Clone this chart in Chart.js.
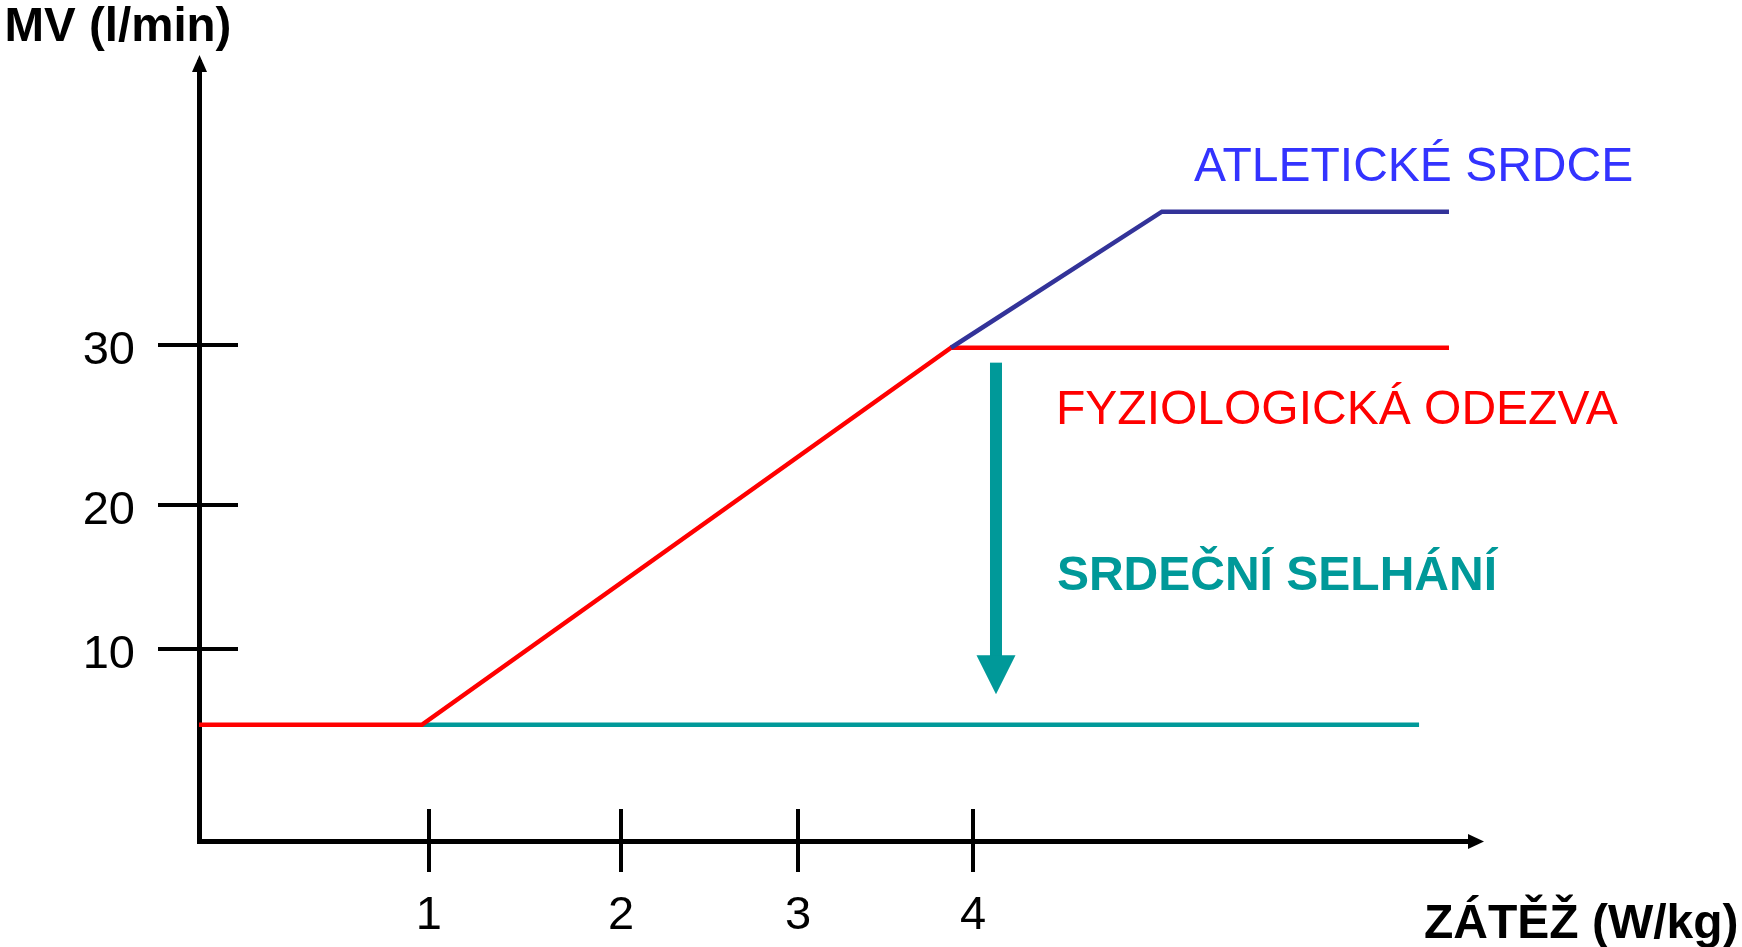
<!DOCTYPE html>
<html>
<head>
<meta charset="utf-8">
<script src="https://cdn.jsdelivr.net/npm/chart.js@4/dist/chart.umd.min.js"></script>
<style>
  html, body { margin: 0; padding: 0; background: #fff; overflow: hidden; }
  #wrap { width: 1742px; height: 947px; position: relative; }
</style>
</head>
<body>
<div id="wrap"><canvas id="c"></canvas></div>
<script>
// ---- data ----
const xTickValues = [1, 2.06, 3.035, 4];
const xTickLabels = ['1', '2', '3', '4'];
const yTickValues = [10, 19.47, 30];
const yTickLabels = ['10', '20', '30'];

const seriesNames = ['ATLETICKÉ SRDCE', 'FYZIOLOGICKÁ ODEZVA', 'SRDEČNÍ SELHÁNÍ'];

const athleteX = [3.879, 5.042, 6.625];
const athleteY = [29.8, 38.75, 38.75];

const physioX = [-0.268, 0.961, 3.879, 6.625];
const physioY = [5, 5, 29.8, 29.8];

const failureX = [0.961, 6.46];
const failureY = [5, 5];

const failureArrowX = [4.127];
const failureArrowY = [28.82, 7.0];

const xAxisTitle = 'ZÁTĚŽ (W/kg)';
const yAxisTitle = 'MV (l/min)';

// ---- helpers ----
const pts = (xs, ys) => xs.map((x, i) => ({ x: x, y: ys[i] }));
const FONT = '"Liberation Sans", Arial, sans-serif';

const annot = {
  id: 'annot',
  afterDraw(chart) {
    const ctx = chart.ctx;
    const xs = chart.scales.x, ys = chart.scales.y;
    const ca = chart.chartArea;
    ctx.save();
    ctx.fillStyle = '#000';
    ctx.strokeStyle = '#000';

    // axis arrowheads
    const ax = ca.left + 0.5;
    ctx.beginPath();
    ctx.moveTo(ax, ca.top - 7);
    ctx.lineTo(ax - 7.5, ca.top + 10);
    ctx.lineTo(ax + 7.5, ca.top + 10);
    ctx.closePath();
    ctx.fill();
    const ay = ca.bottom + 0.5;
    ctx.beginPath();
    ctx.moveTo(ca.right + 8, ay);
    ctx.lineTo(ca.right - 8, ay - 7.5);
    ctx.lineTo(ca.right - 8, ay + 7.5);
    ctx.closePath();
    ctx.fill();

    // tick marks crossing the axes
    ctx.lineWidth = 4;
    xs.ticks.forEach(t => {
      const px = Math.round(xs.getPixelForValue(t.value));
      ctx.beginPath();
      ctx.moveTo(px, ca.bottom - 32);
      ctx.lineTo(px, ca.bottom + 31);
      ctx.stroke();
    });
    ys.ticks.forEach(t => {
      const py = Math.round(ys.getPixelForValue(t.value));
      ctx.beginPath();
      ctx.moveTo(ca.left - 41, py);
      ctx.lineTo(ca.left + 39, py);
      ctx.stroke();
    });

    // failure arrow
    const fx = xs.getPixelForValue(failureArrowX[0]);
    const fy0 = ys.getPixelForValue(failureArrowY[0]);
    const fy1 = ys.getPixelForValue(failureArrowY[1]);
    ctx.fillStyle = '#009999';
    ctx.fillRect(fx - 6, fy0, 12, (fy1 - 39) - fy0 + 1);
    ctx.beginPath();
    ctx.moveTo(fx, fy1);
    ctx.lineTo(fx - 19.5, fy1 - 39);
    ctx.lineTo(fx + 19.5, fy1 - 39);
    ctx.closePath();
    ctx.fill();

    // series labels
    ctx.textAlign = 'left';
    ctx.textBaseline = 'alphabetic';
    ctx.font = '48px ' + FONT;
    ctx.fillStyle = '#3333FF';
    ctx.fillText(seriesNames[0], xs.getPixelForValue(5.219), ys.getPixelForValue(40.77));
    ctx.fillStyle = '#FF0000';
    ctx.fillText(seriesNames[1], xs.getPixelForValue(4.458), ys.getPixelForValue(24.78));
    ctx.font = 'bold 48px ' + FONT;
    ctx.fillStyle = '#009999';
    ctx.fillText(seriesNames[2], xs.getPixelForValue(4.463), ys.getPixelForValue(13.86));

    // axis titles
    ctx.fillStyle = '#000';
    ctx.font = 'bold 47.5px ' + FONT;
    ctx.fillText(yAxisTitle, 4.5, 41);
    ctx.font = 'bold 48px ' + FONT;
    ctx.fillText(xAxisTitle, 1424, 938);
    ctx.restore();
  }
};

new Chart(document.getElementById('c'), {
  type: 'scatter',
  data: {
    datasets: [
      { label: seriesNames[0], data: pts(athleteX, athleteY), borderColor: '#333399' },
      { label: seriesNames[1], data: pts(physioX, physioY), borderColor: '#FF0000' },
      { label: seriesNames[2], data: pts(failureX, failureY), borderColor: '#009999' }
    ].map(d => Object.assign(d, {
      showLine: true, pointRadius: 0, pointHoverRadius: 0, borderWidth: 4.5,
      borderJoinStyle: 'miter', borderCapStyle: 'butt', tension: 0, clip: 6
    }))
  },
  options: {
    responsive: true,
    maintainAspectRatio: false,
    animation: false,
    devicePixelRatio: 1,
    layout: { padding: { left: 0, top: 62, right: 266, bottom: 0 } },
    plugins: { legend: { display: false }, tooltip: { enabled: false } },
    scales: {
      x: {
        type: 'linear', min: -0.268, max: 6.774,
        afterBuildTicks: s => { s.ticks = xTickValues.map(v => ({ value: v })); },
        afterFit: s => { s.height = 106; s.paddingLeft = 0; s.paddingRight = 0; s.paddingTop = 0; s.paddingBottom = 0; },
        ticks: {
          autoSkip: false, maxRotation: 0, padding: 47, color: '#000',
          font: { family: FONT, size: 47 },
          callback: (v, i) => xTickLabels[i]
        },
        grid: { display: false, drawTicks: false },
        border: { display: true, width: 5, color: '#000' }
      },
      y: {
        type: 'linear', min: -2.65, max: 48.6,
        afterBuildTicks: s => { s.ticks = yTickValues.map(v => ({ value: v })); },
        afterFit: s => { s.width = 199; s.paddingLeft = 0; s.paddingRight = 0; s.paddingTop = 0; s.paddingBottom = 0; },
        ticks: {
          autoSkip: false, padding: 64, labelOffset: 6, color: '#000',
          font: { family: FONT, size: 47 },
          callback: (v, i) => yTickLabels[i]
        },
        grid: { display: false, drawTicks: false },
        border: { display: true, width: 5, color: '#000' }
      }
    }
  },
  plugins: [annot]
});
</script>
</body>
</html>
